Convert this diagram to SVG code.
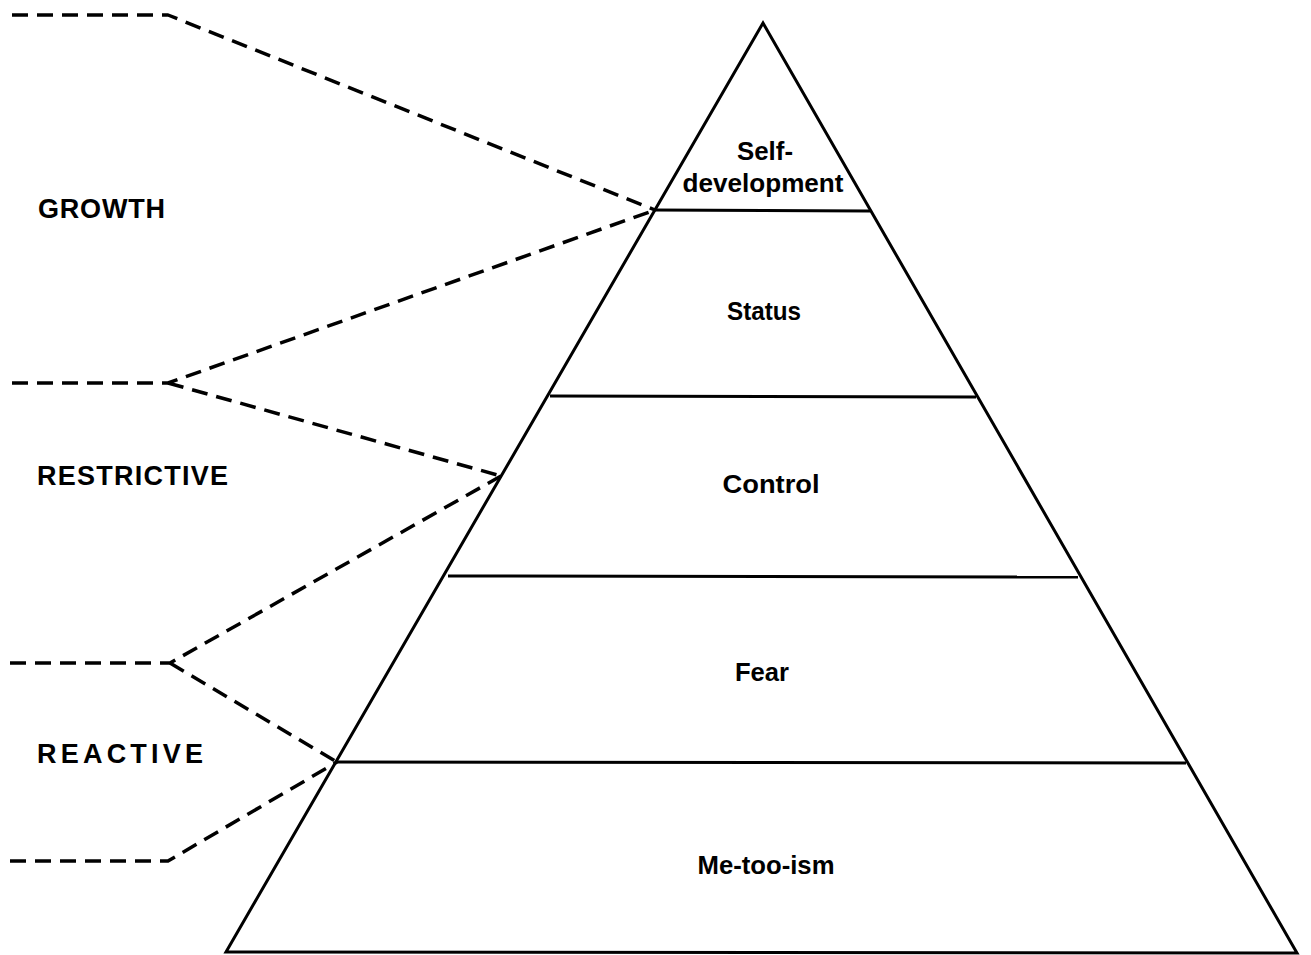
<svg xmlns="http://www.w3.org/2000/svg" width="1311" height="955" viewBox="0 0 1311 955">
<style>
.pyr{fill:none;stroke:#000;stroke-width:3;stroke-linejoin:miter}
.lay{stroke:#000;stroke-width:3}
.dash{fill:none;stroke:#000;stroke-width:3.5;stroke-dasharray:16 9;stroke-linejoin:round}
.lbl{font-family:"Liberation Sans",Arial,sans-serif;font-weight:bold;font-size:27px;fill:#000}
.in{font-family:"Liberation Sans",Arial,sans-serif;font-weight:bold;font-size:26px;fill:#000;text-anchor:middle}
</style>
<rect width="1311" height="955" fill="#fff"/>
<g id="pyramid">
<polygon class="pyr" points="763,23 226,952 1297,953"/>
<line class="lay" x1="654" y1="210" x2="870" y2="211"/>
<line class="lay" x1="550" y1="396" x2="976" y2="397"/>
<line class="lay" x1="448" y1="576" x2="1078" y2="577"/>
<line class="lay" x1="336" y1="762" x2="1186" y2="763"/>
</g>
<g id="connectors">
<path class="dash" d="M12 15 L168 15 L655 210"/>
<path class="dash" d="M12 383 L168 383 L655 210"/>
<path class="dash" d="M168 383 L501 476"/>
<path class="dash" d="M10 663 L170 663 L501 476"/>
<path class="dash" d="M170 663 L337 762"/>
<path class="dash" d="M10 861 L168 861 L337 762"/>
</g>
<g id="growth"><text class="lbl" x="38" y="218" textLength="127" lengthAdjust="spacing">GROWTH</text></g>
<g id="restrictive"><text class="lbl" x="37" y="485" textLength="191" lengthAdjust="spacing">RESTRICTIVE</text></g>
<g id="reactive"><text class="lbl" x="37" y="763" textLength="166" lengthAdjust="spacing">REACTIVE</text></g>
<g id="self-development">
<text class="in" x="765" y="160" textLength="56" lengthAdjust="spacingAndGlyphs">Self-</text>
<text class="in" x="763" y="192" textLength="161" lengthAdjust="spacingAndGlyphs">development</text>
</g>
<g id="status"><text class="in" x="764" y="320" textLength="74" lengthAdjust="spacingAndGlyphs">Status</text></g>
<g id="control"><text class="in" x="771" y="493" textLength="97" lengthAdjust="spacingAndGlyphs">Control</text></g>
<g id="fear"><text class="in" x="762" y="681" textLength="54" lengthAdjust="spacingAndGlyphs">Fear</text></g>
<g id="me-too-ism"><text class="in" x="766" y="874" textLength="137" lengthAdjust="spacingAndGlyphs">Me-too-ism</text></g>
</svg>
